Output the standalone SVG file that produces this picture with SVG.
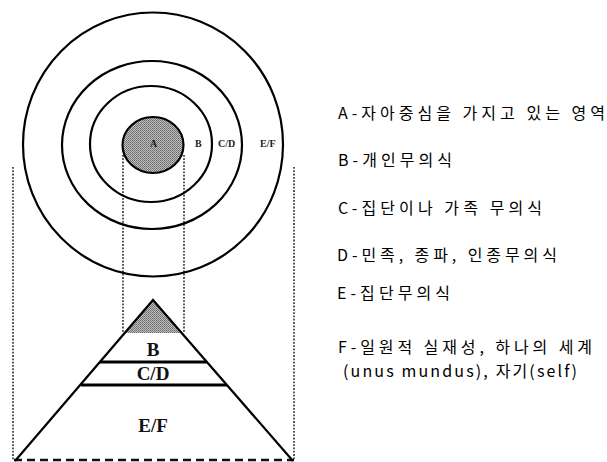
<svg xmlns="http://www.w3.org/2000/svg" width="607" height="462" viewBox="0 0 607 462">
<defs>
<pattern id="stip" width="2" height="2" patternUnits="userSpaceOnUse">
<rect width="2" height="2" fill="#c0c0c0"/>
<rect x="0" y="0" width="1" height="1" fill="#6a6a6a"/>
<rect x="1" y="1" width="1" height="1" fill="#7a7a7a"/>
</pattern>
</defs>
<style>
.ring{fill:none;stroke:#000;stroke-width:2.2}
.dot{stroke:#222;stroke-width:1.5;stroke-dasharray:1.8 1.5;fill:none}
.dash{stroke:#111;stroke-width:2.5;stroke-dasharray:8 5;fill:none}
.pyr{stroke:#000;stroke-width:2.2;fill:none}
.band{stroke:#000;stroke-width:2.8}
.rl{font-family:"Liberation Serif",serif;font-weight:bold;font-size:10px;fill:#222}
.pl{font-family:"Liberation Serif",serif;font-weight:bold;font-size:19px;fill:#111;text-anchor:middle}
.leg{font-family:"Noto Sans CJK KR","Noto Sans",sans-serif;font-size:16px;fill:#000}
</style>
<rect width="607" height="462" fill="#fff"/>
<g id="connectors">
<line class="dot" x1="13" y1="167" x2="13" y2="460"/>
<line class="dot" x1="294" y1="167" x2="294" y2="460"/>
<line class="dot" x1="123" y1="155" x2="123" y2="333"/>
<line class="dot" x1="184" y1="155" x2="184" y2="333"/>
<line class="dash" x1="14" y1="460" x2="294" y2="460"/>
</g>
<g id="circles">
<ellipse class="ring" cx="153" cy="144.5" rx="130" ry="132"/>
<ellipse class="ring" cx="152" cy="145" rx="90" ry="84"/>
<ellipse class="ring" cx="151" cy="144" rx="61" ry="58"/>
<ellipse cx="153" cy="145" rx="30.5" ry="28" fill="url(#stip)" stroke="#000" stroke-width="2.2"/>
<text class="rl" x="150" y="147">A</text>
<text class="rl" x="195" y="147">B</text>
<text class="rl" x="218" y="147">C/D</text>
<text class="rl" x="260" y="147">E/F</text>
</g>
<g id="pyramid">
<polygon points="153,300 124.5,333 181.5,333" fill="url(#stip)"/>
<polyline class="pyr" points="15,461 153,300 293,461"/>
<line class="band" x1="100" y1="362" x2="207" y2="362"/>
<line class="band" x1="81" y1="385" x2="227" y2="385"/>
<text class="pl" x="153" y="356">B</text>
<text class="pl" x="153" y="380">C/D</text>
<text class="pl" x="153" y="432">E/F</text>
</g>
<g id="legend">
<text class="leg" x="338" y="119" textLength="267" lengthAdjust="spacing">A-자아중심을 가지고 있는 영역</text>
<text class="leg" x="338" y="166" textLength="114" lengthAdjust="spacing">B-개인무의식</text>
<text class="leg" x="338" y="214" textLength="204" lengthAdjust="spacing">C-집단이나 가족 무의식</text>
<text class="leg" x="337" y="261" textLength="220" lengthAdjust="spacing">D-민족, 종파, 인종무의식</text>
<text class="leg" x="337" y="299" textLength="113" lengthAdjust="spacing">E-집단무의식</text>
<text class="leg" x="338" y="353" textLength="254" lengthAdjust="spacing">F-일원적 실재성, 하나의 세계</text>
<text class="leg" x="343" y="377" textLength="234" lengthAdjust="spacing">(unus mundus), 자기(self)</text>
</g>
</svg>
